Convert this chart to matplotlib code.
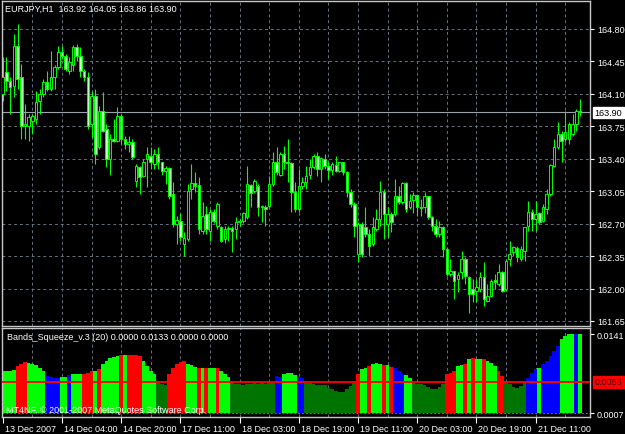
import matplotlib
matplotlib.use("Agg")
import matplotlib.pyplot as plt
import matplotlib.transforms as mtransforms
import numpy as np

plt.rcParams['font.family'] = ['Liberation Sans', 'DejaVu Sans']

symbol_title = "EURJPY,H1  163.92 164.05 163.86 163.90"
indicator_title = "Bands_Squeeze_v.3 (20) 0.0000 0.0133 0.0000 0.0000"
copyright_text = "MT4NF, \u00a9 2001-2007 MetaQuotes Software Corp."

opens = [164.10, 164.34, 164.24, 164.19, 164.62, 164.28, 163.75, 163.75, 163.81, 163.83,
         164.02, 164.10, 164.23, 164.15, 164.28, 164.39, 164.55, 164.51, 164.35, 164.41,
         164.61, 164.51, 164.35, 164.28, 163.78, 164.08, 163.53, 163.91, 163.72, 163.40,
         163.61, 163.59, 163.86, 163.61, 163.56, 163.58, 163.16, 163.31, 163.21, 163.40,
         163.43, 163.34, 163.45, 163.36, 163.27, 163.30, 163.02, 162.70, 162.73, 162.48,
         162.53, 163.07, 163.14, 163.12, 162.62, 162.80, 162.62, 162.83, 162.68, 162.66,
         162.53, 162.64, 162.65, 162.64, 162.72, 162.73, 162.77, 163.12, 163.05, 163.11,
         162.88, 162.88, 162.89, 163.13, 163.36, 163.23, 163.45, 163.36, 163.35, 163.04,
         162.86, 163.11, 163.15, 163.23, 163.31, 163.43, 163.29, 163.40, 163.32, 163.28,
         163.33, 163.27, 163.36, 163.26, 163.04, 162.91, 162.37, 162.70, 162.66, 162.59,
         162.48, 162.64, 162.75, 163.04, 162.70, 162.80, 162.80, 163.00, 162.93, 163.14,
         162.88, 162.95, 163.01, 162.88, 162.88, 163.00, 162.77, 162.67, 162.59, 162.66,
         162.43, 162.16, 162.19, 162.10, 162.18, 162.32, 162.12, 162.00, 161.97, 162.00,
         162.12, 161.87, 161.92, 162.09, 162.05, 162.18, 162.00, 162.32, 162.39, 162.44,
         162.32, 162.40, 162.67, 162.83, 162.75, 162.81, 162.73, 162.86, 163.02, 163.32,
         163.53, 163.67, 163.61, 163.61, 163.67, 163.78, 163.92]
highs = [164.50, 164.50, 164.28, 164.75, 164.85, 164.42, 163.99, 163.88, 163.88, 164.13,
         164.15, 164.26, 164.35, 164.56, 164.41, 164.62, 164.62, 164.53, 164.50, 164.63,
         164.64, 164.61, 164.37, 164.34, 164.13, 164.15, 163.97, 164.12, 163.78, 163.67,
         163.83, 163.96, 163.88, 163.65, 163.65, 163.61, 163.34, 163.32, 163.40, 163.53,
         163.53, 163.51, 163.53, 163.37, 163.32, 163.31, 163.15, 162.78, 162.82, 162.61,
         163.13, 163.34, 163.26, 163.20, 162.93, 162.89, 162.86, 162.86, 162.93, 162.68,
         162.67, 162.67, 162.67, 162.77, 162.75, 162.83, 163.32, 163.13, 163.18, 163.13,
         162.90, 162.90, 163.21, 163.47, 163.53, 163.47, 163.54, 163.61, 163.37, 163.15,
         163.29, 163.20, 163.32, 163.40, 163.45, 163.47, 163.42, 163.45, 163.37, 163.37,
         163.43, 163.37, 163.37, 163.27, 163.07, 162.93, 162.72, 162.72, 162.88, 162.64,
         162.77, 162.86, 163.16, 163.07, 162.88, 162.83, 163.18, 163.11, 163.15, 163.15,
         163.02, 163.04, 163.02, 162.97, 163.04, 163.00, 162.78, 162.75, 162.73, 162.67,
         162.45, 162.32, 162.19, 162.18, 162.40, 162.34, 162.14, 162.10, 162.10, 162.18,
         162.29, 162.05, 162.10, 162.16, 162.26, 162.19, 162.32, 162.51, 162.46, 162.46,
         162.46, 162.66, 162.94, 162.86, 162.94, 162.83, 162.91, 163.07, 163.34, 163.61,
         163.80, 163.70, 163.92, 163.80, 163.88, 163.94, 164.05]
lows = [164.02, 164.13, 163.88, 164.07, 164.15, 163.61, 163.61, 163.59, 163.67, 163.78,
        163.88, 164.07, 164.13, 164.13, 164.15, 164.37, 164.48, 164.35, 164.31, 164.35,
        164.45, 164.28, 164.24, 163.72, 163.64, 163.34, 163.51, 163.69, 163.31, 163.23,
        163.58, 163.58, 163.56, 163.51, 163.47, 163.40, 163.10, 163.02, 163.20, 163.10,
        163.29, 163.29, 163.29, 163.23, 163.13, 162.97, 162.66, 162.48, 162.51, 162.35,
        162.51, 162.97, 163.04, 162.59, 162.59, 162.59, 162.51, 162.71, 162.64, 162.50,
        162.49, 162.51, 162.39, 162.53, 162.67, 162.71, 162.75, 162.88, 163.03, 162.78,
        162.72, 162.67, 162.88, 163.11, 163.23, 163.21, 163.29, 163.15, 162.83, 162.83,
        162.83, 163.07, 163.07, 163.18, 163.29, 163.21, 163.15, 163.29, 163.18, 163.23,
        163.26, 163.26, 163.23, 162.99, 162.88, 162.56, 162.29, 162.34, 162.56, 162.35,
        162.46, 162.62, 162.67, 162.53, 162.56, 162.61, 162.78, 162.91, 162.91, 162.83,
        162.86, 162.82, 162.78, 162.78, 162.82, 162.75, 162.62, 162.56, 162.56, 162.34,
        162.14, 162.14, 161.89, 161.96, 162.10, 162.05, 161.74, 161.85, 161.85, 161.96,
        161.81, 161.85, 161.91, 162.00, 162.03, 161.96, 161.97, 162.24, 162.35, 162.29,
        162.30, 162.30, 162.62, 162.62, 162.62, 162.70, 162.72, 162.80, 163.00, 163.31,
        163.51, 163.36, 163.58, 163.56, 163.65, 163.70, 163.86]
closes = [164.28, 164.24, 164.17, 164.62, 164.26, 163.75, 163.78, 163.85, 163.86, 164.01,
          164.10, 164.23, 164.15, 164.28, 164.39, 164.55, 164.51, 164.37, 164.44, 164.61,
          164.51, 164.35, 164.28, 163.75, 164.08, 163.45, 163.91, 163.70, 163.40, 163.61,
          163.59, 163.86, 163.61, 163.56, 163.58, 163.42, 163.32, 163.20, 163.37, 163.45,
          163.36, 163.45, 163.36, 163.27, 163.30, 163.00, 162.70, 162.74, 162.56, 162.55,
          163.05, 163.14, 163.11, 162.64, 162.78, 162.64, 162.83, 162.73, 162.91, 162.51,
          162.64, 162.65, 162.62, 162.72, 162.73, 162.82, 163.13, 163.03, 163.16, 162.88,
          162.89, 162.86, 163.13, 163.36, 163.26, 163.45, 163.36, 163.35, 163.04, 162.86,
          163.11, 163.15, 163.21, 163.31, 163.43, 163.29, 163.41, 163.32, 163.28, 163.34,
          163.27, 163.36, 163.26, 163.04, 162.91, 162.67, 162.70, 162.37, 162.59, 162.46,
          162.66, 162.75, 163.04, 162.80, 162.80, 162.72, 163.00, 162.93, 163.14, 162.86,
          162.94, 163.01, 162.88, 162.87, 163.00, 162.77, 162.67, 162.59, 162.66, 162.43,
          162.16, 162.19, 162.08, 162.15, 162.32, 162.14, 161.94, 161.94, 162.02, 162.12,
          161.89, 161.92, 162.08, 162.07, 162.18, 161.97, 162.30, 162.37, 162.45, 162.34,
          162.43, 162.66, 162.83, 162.75, 162.80, 162.72, 162.88, 163.02, 163.33, 163.53,
          163.67, 163.59, 163.69, 163.78, 163.78, 163.92, 163.90]

squeeze = [0.00756, 0.00756, 0.00756, 0.00773, 0.00845, 0.00886, 0.00916, 0.00904, 0.00886, 0.00863,
           0.00815, 0.00756, 0.00666, 0.00649, 0.00637, 0.00637, 0.00649, 0.00649, 0.00678, 0.00696,
           0.00696, 0.00696, 0.00708, 0.00726, 0.00756, 0.00756, 0.00785, 0.00875, 0.00934, 0.00994,
           0.01011, 0.01023, 0.01035, 0.01035, 0.01035, 0.01035, 0.01035, 0.01023, 0.00934, 0.00845,
           0.00756, 0.00696, 0.00565, 0.00530, 0.00506, 0.00696, 0.00815, 0.00875, 0.00922, 0.00934,
           0.00886, 0.00863, 0.00827, 0.00815, 0.00815, 0.00815, 0.00815, 0.00815, 0.00803, 0.00756,
           0.00696, 0.00649, 0.00565, 0.00530, 0.00518, 0.00506, 0.00518, 0.00530, 0.00536, 0.00530,
           0.00536, 0.00530, 0.00542, 0.00547, 0.00666, 0.00649, 0.00708, 0.00726, 0.00714, 0.00684,
           0.00649, 0.00625, 0.00547, 0.00536, 0.00518, 0.00512, 0.00506, 0.00506, 0.00458, 0.00428,
           0.00399, 0.00381, 0.00387, 0.00428, 0.00488, 0.00547, 0.00696, 0.00785, 0.00815, 0.00845,
           0.00875, 0.00892, 0.00886, 0.00863, 0.00863, 0.00833, 0.00803, 0.00756, 0.00696, 0.00684,
           0.00637, 0.00547, 0.00530, 0.00518, 0.00500, 0.00470, 0.00428, 0.00440, 0.00470, 0.00518,
           0.00696, 0.00726, 0.00756, 0.00845, 0.00863, 0.00886, 0.00964, 0.00994, 0.00976, 0.00976,
           0.00964, 0.00934, 0.00904, 0.00845, 0.00756, 0.00666, 0.00565, 0.00518, 0.00470, 0.00446,
           0.00488, 0.00547, 0.00637, 0.00726, 0.00785, 0.00815, 0.00875, 0.00934, 0.01023, 0.01113,
           0.01202, 0.01321, 0.01380, 0.01410, 0.01422, 0.01422, 0.01422]
# indicator buffer per bar: G = expanding, R = contracting, B = breakout, D = squeeze
squeeze_state = ("GGGGRRRGGGGGBBBBGGBGGGRRRGRGGGGGRGRRRRGGGGDDDRRRRRGGGRGRGGRGGG"
                 "DDDDDDDDDDDDBBGGGGBBDDDDDDDDDDDDDDRGGRGGGRGRBBBGGDDDDDDDDDRRRGGRGRGGRGGGRR"
                 "DDDDDDBBBGBBBBBGGGGBG")

price_ticks = [164.80, 164.45, 164.10, 163.75, 163.40, 163.05, 162.70, 162.35, 162.00, 161.65]
bid_price = 163.90
time_labels = ["13 Dec 2007", "14 Dec 04:00", "14 Dec 20:00", "17 Dec 11:00", "18 Dec 03:00",
               "18 Dec 19:00", "19 Dec 11:00", "20 Dec 03:00", "20 Dec 19:00", "21 Dec 11:00"]
time_label_bars = [0, 16, 32, 48, 64, 80, 96, 112, 128, 144]
squeeze_level = 0.0056
squeeze_max_label = 0.0141
squeeze_min_label = "0.0007"

state_colors = {'G': '#00ff00', 'R': '#ff0000', 'B': '#0000ff', 'D': '#007400'}
LIME = '#00ff00'
GRID = '#66737f'
FRAME = '#c8c8c8'

W, H = 625, 435
fig = plt.figure(figsize=(W / 100, H / 100), dpi=100, facecolor='black')
main = fig.add_axes([2 / W, 1 - 327 / H, 588 / W, 325 / H])
ind = fig.add_axes([2 / W, 1 - 418 / H, 588 / W, 89 / H])

n = len(closes)
x = np.arange(n)
xlim = (-0.2, 158.7)

for ax in (main, ind):
    ax.set_facecolor('black')
    for s in ax.spines.values():
        s.set_color(FRAME)
        s.set_linewidth(1.0)
    ax.set_xlim(*xlim)
    for gx in range(8, 160, 8):
        ax.axvline(gx, color=GRID, lw=0.7, ls=(0, (3, 3)), zorder=0)
    ax.yaxis.tick_right()
    ax.tick_params(axis='y', colors='white', labelcolor='white', length=3, width=0.8,
                   labelsize=6.5, pad=2)

# ---- main price panel ----
main.set_ylim(161.596, 165.102)
for p in price_ticks:
    main.axhline(p, color=GRID, lw=0.7, ls=(0, (3, 3)), zorder=0)
main.set_yticks(price_ticks)
main.set_yticklabels([f"{p:.2f}" for p in price_ticks])
main.set_xticks([])
main.axhline(bid_price, color='#9aa4ae', lw=0.8, zorder=1)

o = np.array(opens); c = np.array(closes); h = np.array(highs); l = np.array(lows)
main.vlines(x, l, h, color=LIME, lw=0.8, zorder=2)
body_lo = np.minimum(o, c)
body_h = np.maximum(np.abs(c - o), 0.004)
fills = np.where(c >= o, 'black', '#b8ffb8')
main.bar(x, body_h, bottom=body_lo, width=0.68, color=fills, edgecolor=LIME,
         linewidth=0.7, zorder=3)

fig.text(5 / W, 1 - 9 / H, symbol_title, color='white', fontsize=6.5, va='center', ha='left')
main.text(1.008, bid_price, f"{bid_price:.2f}", transform=main.get_yaxis_transform(),
          color='black', fontsize=6.5, va='center', ha='left', zorder=10, clip_on=False,
          bbox=dict(boxstyle='square,pad=0.15', fc='white', ec='white'))

# ---- indicator panel ----
ind.set_ylim(-0.00066, 0.01522)
cols = [state_colors[s] for s in squeeze_state]
ind.bar(x, squeeze, width=1.0, color=cols, linewidth=0, zorder=2)
ind.axhline(squeeze_level, color='#ff0000', lw=1.3, zorder=3)
ind.axhline(0, color=GRID, lw=0.7, ls=(0, (2, 2)), zorder=1)
ind.set_yticks([squeeze_max_label, 0])
ind.set_yticklabels([f"{squeeze_max_label:.4f}", squeeze_min_label])
ind.text(1.008, squeeze_level, f"{squeeze_level:.4f}", transform=ind.get_yaxis_transform(),
         color='#400000', fontsize=6.5, va='center', ha='left', zorder=10, clip_on=False,
         bbox=dict(boxstyle='square,pad=0.15', fc='#ff0000', ec='#ff0000'))
ind.text(5 / 588, 0.9, indicator_title, transform=ind.transAxes, color='white', fontsize=6.5,
         va='center', ha='left', zorder=5)
ind.text(4 / 588, 0.08, copyright_text, transform=ind.transAxes, color='white', fontsize=6.5,
         va='center', ha='left', zorder=5)

ind.set_xticks(time_label_bars)
ind.set_xticklabels(time_labels)
ind.tick_params(axis='x', colors='white', labelcolor='white', length=4, width=0.8,
                labelsize=6.5, pad=1)
offset = mtransforms.ScaledTranslation(2 / 100, 0, fig.dpi_scale_trans)
for lab in ind.get_xticklabels():
    lab.set_horizontalalignment('left')
    lab.set_transform(lab.get_transform() + offset)

assert len(squeeze_state) == n == len(squeeze), (len(squeeze_state), n, len(squeeze))

fig.savefig('out.png', dpi=100, facecolor='black')
